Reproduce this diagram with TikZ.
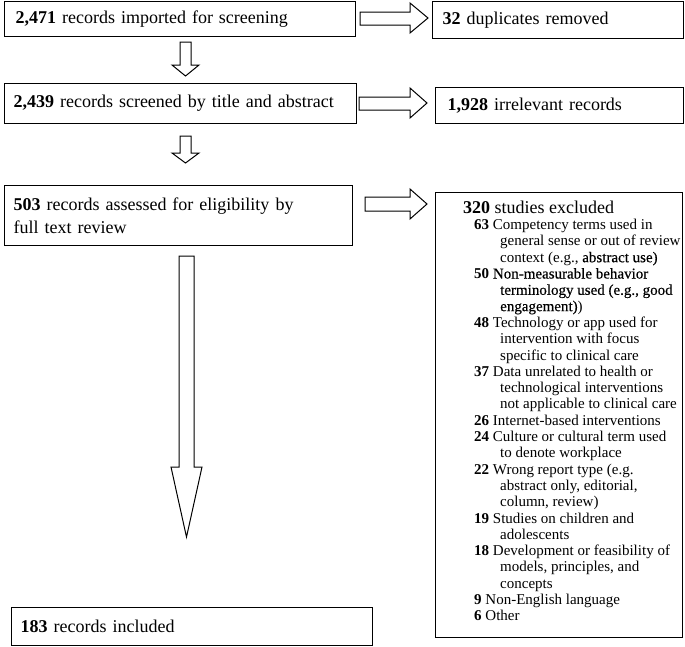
\documentclass[tikz,border=0pt]{standalone}
\usepackage{fontspec}
\setmainfont{Liberation Serif}
\newfontfamily\medfont[FakeBold=0.4]{Liberation Serif}
\begin{document}
\begin{tikzpicture}[x=1pt,y=-1pt,
  box/.style={draw=black, line width=1.1pt, rectangle, anchor=north west,
    inner ysep=0pt, align=left, font=\fontsize{18}{23}\selectfont},
  blockarrow/.style={draw=black, line width=1pt, fill=white, line join=miter},
  listtext/.style={inner sep=0pt, anchor=north west, align=left,
    font=\fontsize{15}{16.3}\selectfont}
]
\useasboundingbox (0,0) rectangle (685,646);

% boxes
\node[box, inner xsep=11pt, text width=329pt, minimum height=35pt] (b1) at (4,1)
  {\textbf{2,471} records imported for screening};
\node[box, inner xsep=10pt, text width=231pt, minimum height=37pt] (dup) at (432,1)
  {\textbf{32} duplicates removed};
\node[box, inner xsep=9pt, text width=334pt, minimum height=40pt] (b2) at (4,83)
  {\textbf{2,439} records screened by title and abstract};
\node[box, inner xsep=12pt, text width=224pt, minimum height=36pt] (irr) at (435,87)
  {\textbf{1,928} irrelevant records};
\node[box, inner xsep=9pt, text width=330pt, minimum height=60pt] (b3) at (4,185)
  {\textbf{503} records assessed for eligibility by\\full text review};
\node[box, inner xsep=0pt, minimum width=247pt, minimum height=445pt] (excl) at (435,192) {};
\node[box, inner xsep=9pt, text width=343pt, minimum height=38pt] (inc) at (11,607)
  {\textbf{183} records included};

% excluded contents
\node[inner sep=0pt, anchor=base west, font=\fontsize{18}{23}\selectfont] (exhdr) at (463,213)
  {\textbf{320} studies excluded};
\node[listtext] (exlist) at (474,219)
  {\textbf{63} Competency terms used in\\
   \hspace*{26pt}general sense or out of review\\
   \hspace*{26pt}context (e.g., {\medfont abstract use)}\\
   \textbf{50} {\medfont Non-measurable behavior}\\
   \hspace*{26pt}{\medfont terminology used (e.g., good}\\
   \hspace*{26pt}{\medfont engagement)})\\
   \textbf{48} Technology or app used for\\
   \hspace*{26pt}intervention with focus\\
   \hspace*{26pt}specific to clinical care\\
   \textbf{37} Data unrelated to health or\\
   \hspace*{26pt}technological interventions\\
   \hspace*{26pt}not applicable to clinical care\\
   \textbf{26} Internet-based interventions\\
   \textbf{24} Culture or cultural term used\\
   \hspace*{26pt}to denote workplace\\
   \textbf{22} Wrong report type (e.g.\\
   \hspace*{26pt}abstract only, editorial,\\
   \hspace*{26pt}column, review)\\
   \textbf{19} Studies on children and\\
   \hspace*{26pt}adolescents\\
   \textbf{18} Development or feasibility of\\
   \hspace*{26pt}models, principles, and\\
   \hspace*{26pt}concepts\\
   \textbf{9} Non-English language\\
   \textbf{6} Other};

% block arrows (down)
\draw[blockarrow] (180,42) -- (191,42) -- (191,65) -- (199,65) -- (185.5,76)
  -- (172,65) -- (180,65) -- cycle;
\draw[blockarrow] (180,136) -- (191,136) -- (191,153) -- (199,153) -- (185.5,163)
  -- (172,153) -- (180,153) -- cycle;
\draw[blockarrow] (179,256) -- (194,256) -- (194,467) -- (202,467) -- (186.5,537)
  -- (171,467) -- (179,467) -- cycle;

% block arrows (right)
\draw[blockarrow] (360,12) -- (410,12) -- (410,3) -- (428,18) -- (410,33)
  -- (410,25) -- (360,25) -- cycle;
\draw[blockarrow] (359,97) -- (410,97) -- (410,88) -- (427,103) -- (410,118)
  -- (410,110) -- (359,110) -- cycle;
\draw[blockarrow] (365,197) -- (410,197) -- (410,189) -- (427,204) -- (410,219)
  -- (410,211) -- (365,211) -- cycle;
\end{tikzpicture}
\end{document}
